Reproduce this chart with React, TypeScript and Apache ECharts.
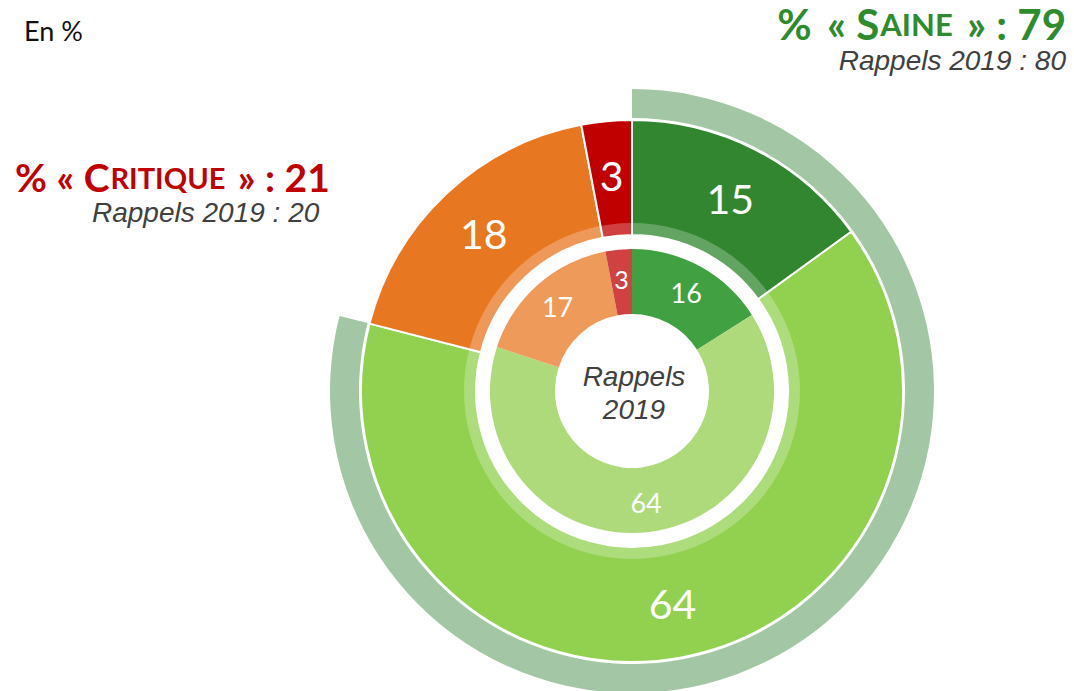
import React, { useEffect, useRef } from "react";
import * as echarts from "echarts";

const categories = ["Saine (vert foncé)", "Saine (vert clair)", "Critique (orange)", "Critique (rouge)"];
const current = [15, 64, 18, 3];
const rappels2019 = [16, 64, 17, 3];
const saineShare = [79, 21];
const saine2019 = 80;
const critique2019 = 20;
const currentColors = ["#31862F", "#92D050", "#E87722", "#C00000"];
const innerColors = ["#41A042", "#AEDA7C", "#EE9A5A", "#D04242"];

const CX = 632;
const CY = 391;

export default function App() {
  const ref = useRef<HTMLDivElement>(null);
  useEffect(() => {
    document.body.style.margin = "0";
    const chart = echarts.init(ref.current!, null, { renderer: "svg" });
    const num = "Lato, 'Open Sans', sans-serif";
    const big = (fill: string, size: number, pad?: number[]) => ({
      fontSize: size,
      lineHeight: size,
      fontWeight: "bold",
      fontFamily: "Lato",
      fill,
      padding: pad,
    });
    chart.setOption({
      animation: false,
      backgroundColor: "#ffffff",
      series: [
        {
          type: "pie",
          name: "band",
          center: [CX, CY],
          radius: [273, 302],
          startAngle: 90,
          silent: true,
          label: { show: false },
          labelLine: { show: false },
          data: saineShare.map((v, i) => ({
            value: v,
            name: i === 0 ? "Saine" : "Critique",
            itemStyle: { color: i === 0 ? "#A3C7A4" : "rgba(0,0,0,0)" },
          })),
        },
        {
          type: "pie",
          name: "current",
          center: [CX, CY],
          radius: [156, 271],
          startAngle: 90,
          silent: true,
          avoidLabelOverlap: false,
          itemStyle: { borderColor: "#ffffff", borderWidth: 2 },
          label: {
            show: true,
            position: "inside",
            formatter: "{c}",
            color: "#ffffff",
            fontSize: 41,
            fontFamily: num,
          },
          labelLine: { show: false },
          data: current.map((v, i) => ({
            value: v,
            name: categories[i],
            itemStyle: { color: currentColors[i] },
          })),
        },
        {
          type: "pie",
          name: "overlay",
          center: [CX, CY],
          radius: [157, 168],
          silent: true,
          label: { show: false },
          labelLine: { show: false },
          data: [{ value: 1, name: "overlay", itemStyle: { color: "rgba(255,255,255,0.25)" } }],
        },
        {
          type: "pie",
          name: "rappels2019",
          center: [CX, CY],
          radius: [77, 142],
          startAngle: 90,
          silent: true,
          avoidLabelOverlap: false,
          label: {
            show: true,
            position: "inside",
            formatter: "{c}",
            color: "#ffffff",
            fontSize: 27,
            fontFamily: num,
          },
          labelLine: { show: false },
          data: rappels2019.map((v, i) => ({
            value: v,
            name: categories[i],
            itemStyle: { color: innerColors[i] },
            label: i === 3 ? { fontSize: 25 } : undefined,
          })),
        },
      ],
      graphic: [
        {
          type: "text",
          x: 24,
          y: 30,
          style: { text: "En %", font: "27px Lato, sans-serif", fill: "#111111", verticalAlign: "middle" },
        },
        {
          type: "text",
          x: CX + 2,
          y: CY + 2,
          style: {
            text: "Rappels\n2019",
            font: "italic 28px 'Liberation Sans', Arial, sans-serif",
            fill: "#404040",
            align: "center",
            verticalAlign: "middle",
            lineHeight: 33,
          },
        },
        {
          type: "text",
          x: 1066,
          y: 24,
          style: {
            text: "{p|%}{a| « S}{b|AINE}{a| » : " + saineShare[0] + "}",
            align: "right",
            verticalAlign: "middle",
            rich: {
              p: big("#2E8B2E", 42, [0, 5, 0, 0]),
              a: big("#2E8B2E", 42),
              b: big("#2E8B2E", 31, [0, 4, 0, 1]),
            },
          },
        },
        {
          type: "text",
          x: 1066,
          y: 60,
          style: {
            text: "Rappels 2019 : " + saine2019,
            font: "italic 28px 'Liberation Sans', Arial, sans-serif",
            fill: "#404040",
            align: "right",
            verticalAlign: "middle",
          },
        },
        {
          type: "text",
          x: 15,
          y: 177,
          style: {
            text: "{p|%}{a| « C}{b|RITIQUE}{a| » : " + saineShare[1] + "}",
            align: "left",
            verticalAlign: "middle",
            rich: {
              p: big("#C00000", 39),
              a: big("#C00000", 39),
              b: big("#C00000", 29, [0, 3, 0, 1]),
            },
          },
        },
        {
          type: "text",
          x: 92,
          y: 212,
          style: {
            text: "Rappels 2019 : " + critique2019,
            font: "italic 28px 'Liberation Sans', Arial, sans-serif",
            fill: "#404040",
            align: "left",
            verticalAlign: "middle",
          },
        },
      ],
    });
    return () => chart.dispose();
  }, []);
  return <div ref={ref} style={{ width: 1074, height: 691 }} />;
}
